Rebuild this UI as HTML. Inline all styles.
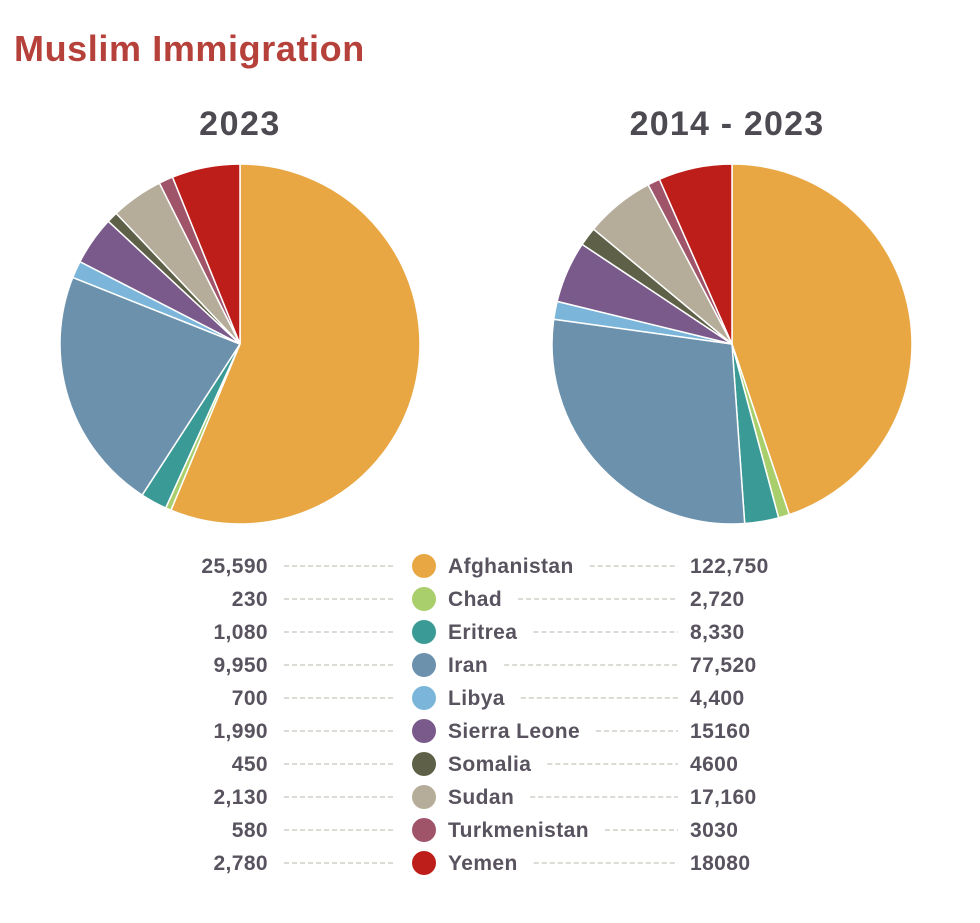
<!DOCTYPE html>
<html><head><meta charset="utf-8"><style>
body{margin:0;background:#fff;width:980px;height:923px;overflow:hidden}
svg{display:block}
text{font-family:"Liberation Sans",sans-serif}
</style></head><body>
<svg id="s" width="980" height="923" viewBox="0 0 980 923">
<text x="14" y="61" font-size="36" font-weight="bold" fill="#B5413A" letter-spacing="0.6">Muslim Immigration</text>
<text x="240" y="135" font-size="34" font-weight="bold" fill="#4d4a52" text-anchor="middle" letter-spacing="1.5">2023</text>
<text x="727" y="135" font-size="34" font-weight="bold" fill="#4d4a52" text-anchor="middle" letter-spacing="1.2">2014 - 2023</text>
<g id="p1"></g><g id="p2"></g><g id="lg"></g>
</svg>
<script>
var names=["Afghanistan","Chad","Eritrea","Iran","Libya","Sierra Leone","Somalia","Sudan","Turkmenistan","Yemen"];
var cols=["#E8A743","#A8CF6B","#3A9A96","#6B91AD","#7BB6DA","#7A5A8A","#5E6148","#B5AC9A","#A0546A","#BE1E1A"];
var a=[25590,230,1080,9950,700,1990,450,2130,580,2780];
var b=[122750,2720,8330,77520,4400,15160,4600,17160,3030,18080];
var la=["25,590","230","1,080","9,950","700","1,990","450","2,130","580","2,780"];
var lb=["122,750","2,720","8,330","77,520","4,400","15160","4600","17,160","3030","18080"];
var NS="http://www.w3.org/2000/svg";
function pie(id,v,cx,cy,r){var g=document.getElementById(id),t=v.reduce((x,y)=>x+y),s=0;
v.forEach(function(x,i){var a0=s/t*2*Math.PI;s+=x;var a1=s/t*2*Math.PI;
var p=document.createElementNS(NS,"path");
var x0=cx+r*Math.sin(a0),y0=cy-r*Math.cos(a0),x1=cx+r*Math.sin(a1),y1=cy-r*Math.cos(a1);
p.setAttribute("d","M"+cx+","+cy+"L"+x0+","+y0+"A"+r+","+r+" 0 "+((a1-a0)>Math.PI?1:0)+" 1 "+x1+","+y1+"Z");
p.setAttribute("fill",cols[i]);p.setAttribute("stroke","#fff");p.setAttribute("stroke-width","1.5");g.appendChild(p);});}
pie("p1",a,240,344,180);pie("p2",b,732,344,180);
var lg=document.getElementById("lg"),h="";
var st='font-size="21" fill="#58535e" font-weight="bold" letter-spacing="0.4"';
for(var i=0;i<10;i++){var y=566+i*33;
h+='<text x="268" y="'+(y+7)+'" '+st+' text-anchor="end">'+la[i]+'</text>';
h+='<line x1="284" y1="'+y+'" x2="394" y2="'+y+'" stroke="#b9b5a8" stroke-width="1" stroke-dasharray="5,3"/>';
h+='<circle cx="424" cy="'+y+'" r="12" fill="'+cols[i]+'"/>';
h+='<text id="n'+i+'" x="448" y="'+(y+7)+'" '+st+'>'+names[i]+'</text>';
h+='<text x="690" y="'+(y+7)+'" '+st+'>'+lb[i]+'</text>';}
lg.innerHTML=h;
for(var i=0;i<10;i++){var y=566+i*33,e=document.getElementById("n"+i),w=e.getBBox().width;
var l=document.createElementNS(NS,"line");l.setAttribute("x1",448+w+16);l.setAttribute("x2",678);l.setAttribute("y1",y);l.setAttribute("y2",y);
l.setAttribute("stroke","#b9b5a8");l.setAttribute("stroke-dasharray","5,3");lg.appendChild(l);}
</script>
</body></html>
